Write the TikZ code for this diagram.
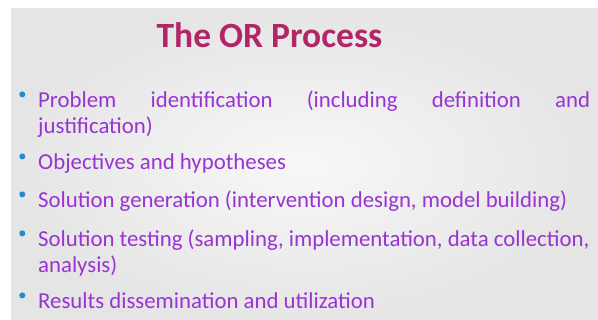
\documentclass[tikz,border=0pt]{standalone}
\usepackage{fontspec}
\setmainfont{Carlito}
\usetikzlibrary{calc}
\definecolor{titlered}{RGB}{178,38,104}
\definecolor{itempurple}{RGB}{153,51,210}
\definecolor{dotblue}{RGB}{38,138,200}
\def\bluedot{\node[circle,fill=dotblue,inner sep=0pt,minimum size=6pt]}
\begin{document}
\begin{tikzpicture}[x=1pt,y=1pt,
  item/.style={anchor=base west,inner sep=0pt,text=itempurple,
    font=\fontsize{22.8}{25.5}\selectfont,text width=552pt,align=justify}]
\useasboundingbox (0,0) rectangle (598,320);
\shade[inner color=white!97!black,outer color=white!90!black] (11,0) rectangle (598,311);
\node[anchor=base,inner sep=0pt,text=titlered,font=\fontsize{35.5}{40}\selectfont\bfseries] (title) at (269.5,272) {The OR Process};
\node[item] (prob) at (38,212) {Problem identification (including definition and\linebreak justification)};
\node[item] (obj) at (38,150) {Objectives and hypotheses};
\node[item] (gen) at (38,112) {Solution generation (intervention design, model building)};
\node[item] (test) at (38,73) {Solution testing (sampling, implementation, data collection,\\ analysis)};
\node[item] (res) at (38,11) {Results dissemination and utilization};
\foreach \n in {prob,obj,gen,test,res}
  \bluedot at ($(\n.base west)+(-15.7,13.6)$) {};
\end{tikzpicture}
\end{document}
